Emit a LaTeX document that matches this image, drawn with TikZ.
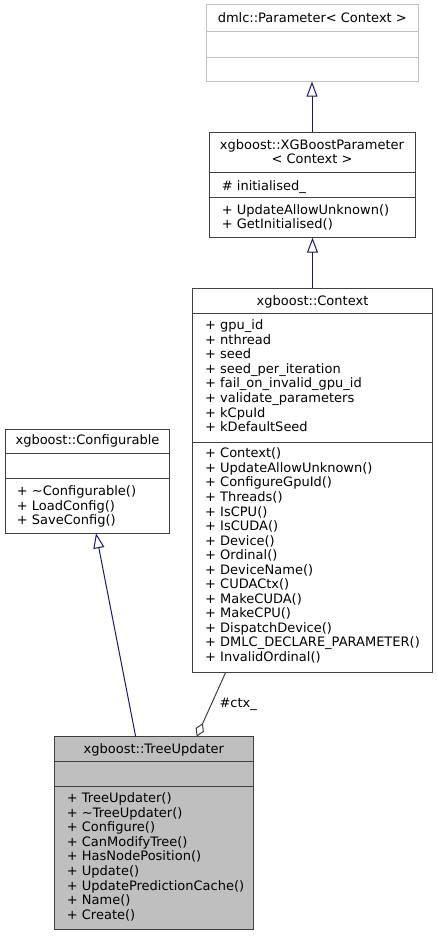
\documentclass[tikz,border=0pt]{standalone}
\usepackage{fontspec}
\setmainfont{DejaVu Sans}
\usetikzlibrary{arrows.meta}
\definecolor{edgeblue}{HTML}{191970}
\definecolor{boxline}{HTML}{404040}
\definecolor{extline}{HTML}{BFBFBF}
\definecolor{hifill}{HTML}{BFBFBF}
\definecolor{aggline}{HTML}{404040}
\tikzset{
  cls/.style={draw=boxline, line width=1pt, fill=white, anchor=north west, inner sep=0pt, outer sep=0pt},
  extcls/.style={cls, draw=extline},
  hicls/.style={cls, fill=hifill},
  sep/.style={draw=boxline, line width=1pt},
  extsep/.style={draw=extline, line width=1pt},
  hd/.style={font=\fontsize{13pt}{14.6pt}\selectfont, inner sep=0pt, anchor=base},
  txt/.style={font=\fontsize{13pt}{14.6pt}\selectfont, inner sep=0pt, anchor=base west},
  inh/.style={draw=edgeblue, line width=1pt, -{Triangle[open, length=15pt, width=11pt]}},
  agg/.style={draw=aggline, line width=1pt, {Diamond[open, length=15pt, width=9pt]}-},
}
\begin{document}
\begin{tikzpicture}[x=1pt, y=-1pt]
\useasboundingbox (0,0) rectangle (437,936);

% dmlc::Parameter< Context >
\node[extcls, minimum width=211.3pt, minimum height=76.7pt] (par) at (206.7,5) {};
\draw[extsep] (par.west |- 0,31.7) -- (par.east |- 0,31.7);
\draw[extsep] (par.west |- 0,57.3) -- (par.east |- 0,57.3);
\node[hd] (parH) at (312.3,22.8) {dmlc::Parameter< Context >};

% xgboost::XGBoostParameter< Context >
\node[cls, minimum width=206pt, minimum height=105.4pt] (xgp) at (209,132.3) {};
\draw[sep] (xgp.west |- 0,172.7) -- (xgp.east |- 0,172.7);
\draw[sep] (xgp.west |- 0,197.3) -- (xgp.east |- 0,197.3);
\node[hd] (xgpH1) at (312,149.5) {xgboost::XGBoostParameter};
\node[hd] (xgpH2) at (312,163.5) {< Context >};
\node[txt] (xgpA1) at (221.7,190.5) {\# initialised\_};
\node[txt] (xgpM1) at (221.7,214.5) {+ UpdateAllowUnknown()};
\node[txt] (xgpM2) at (221.7,228.5) {+ GetInitialised()};

% xgboost::Context
\node[cls, minimum width=239.6pt, minimum height=384pt] (ctx) at (192.7,288.3) {};
\draw[sep] (ctx.west |- 0,313.3) -- (ctx.east |- 0,313.3);
\draw[sep] (ctx.west |- 0,442.3) -- (ctx.east |- 0,442.3);
\node[hd] (ctxH) at (312.5,305.2) {xgboost::Context};
\foreach \t [count=\i] in {{+ gpu\_id},{+ nthread},{+ seed},{+ seed\_per\_iteration},{+ fail\_on\_invalid\_gpu\_id},{+ validate\_parameters},{+ kCpuId},{+ kDefaultSeed}}
  \node[txt] (ctxA\i) at (205,{329.5+(\i-1)*14.62}) {\t};
\foreach \t [count=\i] in {{+ Context()},{+ UpdateAllowUnknown()},{+ ConfigureGpuId()},{+ Threads()},{+ IsCPU()},{+ IsCUDA()},{+ Device()},{+ Ordinal()},{+ DeviceName()},{+ CUDACtx()},{+ MakeCUDA()},{+ MakeCPU()},{+ DispatchDevice()},{+ DMLC\_DECLARE\_PARAMETER()},{+ InvalidOrdinal()}}
  \node[txt] (ctxM\i) at (205,{457.8+(\i-1)*14.55}) {\t};

% xgboost::Configurable
\node[cls, minimum width=163.6pt, minimum height=104pt] (cfg) at (5.7,429.3) {};
\draw[sep] (cfg.west |- 0,453.3) -- (cfg.east |- 0,453.3);
\draw[sep] (cfg.west |- 0,478.3) -- (cfg.east |- 0,478.3);
\node[hd] (cfgH) at (87.5,444.5) {xgboost::Configurable};
\node[txt] (cfgM1) at (16.7,495.8) {+ \textasciitilde Configurable()};
\node[txt] (cfgM2) at (16.7,510.0) {+ LoadConfig()};
\node[txt] (cfgM3) at (16.7,524.2) {+ SaveConfig()};

% xgboost::TreeUpdater
\node[hicls, minimum width=199pt, minimum height=192.6pt] (tu) at (54.3,736.7) {};
\draw[sep] (tu.west |- 0,761.7) -- (tu.east |- 0,761.7);
\draw[sep] (tu.west |- 0,786.7) -- (tu.east |- 0,786.7);
\node[hd] (tuH) at (153.8,753.8) {xgboost::TreeUpdater};
\foreach \t [count=\i] in {{+ TreeUpdater()},{+ \textasciitilde TreeUpdater()},{+ Configure()},{+ CanModifyTree()},{+ HasNodePosition()},{+ Update()},{+ UpdatePredictionCache()},{+ Name()},{+ Create()}}
  \node[txt] (tuM\i) at (66.7,{802.5+(\i-1)*14.6}) {\t};

% connectors
\draw[inh] (xgp.north) -- (xgp.north |- par.south);
\draw[inh] (ctx.north) -- (ctx.north |- xgp.south);
\path (cfg.south west) ++(90.3,0) coordinate (cfgIn);
\path (tu.north west) ++(81.4,0) coordinate (tuOut);
\draw[inh] (tuOut) -- (cfgIn);
\path (ctx.south west) ++(33,0) coordinate (ctxAgg);
\path (tu.north west) ++(142.4,0) coordinate (tuAgg);
\draw[agg] (tuAgg) -- (ctxAgg);
\node[txt] (aggLbl) at (219.3,707.8) {\#ctx\_};
\end{tikzpicture}
\end{document}
